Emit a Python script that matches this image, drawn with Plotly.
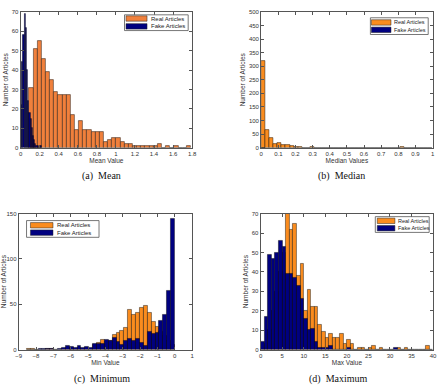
import numpy as np
import plotly.graph_objects as go

# ---------------- data ----------------
# (a) Mean
mean_real_start = 0.089
mean_real_binw = 0.0435
mean_real_counts = [31, 51, 55, 46, 39, 35, 29, 27, 27, 27, 17, 9, 14, 9, 9, 8, 8, 8, 3, 4,
                    5, 5, 3, 2, 2, 1, 1, 1, 1, 1, 1, 2, 0, 1, 0, 1, 0, 0, 1]
mean_fake_start = 0.0
mean_fake_binw = 0.0125
mean_fake_counts = [22, 44, 58, 69, 62, 40, 24, 18, 15, 10, 6, 4, 2, 1, 1, 0, 1, 1]

# (b) Median
median_real_start = 0.0
median_real_binw = 1 / 42
median_real_counts = [321, 65, 36, 14, 18, 11, 10, 6, 4, 3, 0, 0, 2, 0, 0, 1, 1, 1, 0, 1, 0,
                      0, 0, 0, 0, 0, 0, 1, 0, 0, 1, 1, 0, 0, 2, 1, 0, 0, 1, 0, 1, 1]
median_fake_start = 0.0
median_fake_binw = 1 / 42
median_fake_counts = [0]

# (c) Minimum  (bins listed left to right, ending at 0)
min_start = -8.55
min_binw = 0.225
min_real_counts = [1, 1, 0, 0, 0, 1, 1, 0, 0, 1, 2, 2, 1, 2, 1, 2, 1, 5, 8, 11,
                   9, 10, 16, 19, 21, 24, 44, 38, 41, 46, 48, 41, 31, 25, 20, 15, 10, 5]
min_fake_counts = [0, 0, 0, 1, 1, 1, 1, 0, 1, 2, 4, 3, 2, 4, 2, 3, 2, 6, 7, 7,
                   11, 10, 13, 9, 5, 10, 12, 10, 12, 8, 4, 20, 17, 19, 32, 39, 65, 145]

# (d) Maximum
max_start = 0.0
max_binw = 40 / 48
max_real_counts = [1, 3, 10, 20, 30, 40, 50, 70, 62, 65, 38, 44, 20, 31, 22, 22, 13, 9, 6, 8,
                   6, 6, 8, 3, 5, 3, 0, 1, 1, 0, 1, 2, 0, 1, 0, 0, 0, 0, 1, 0,
                   1, 0, 0, 0, 0, 0, 2, 0]
max_fake_counts = [4, 17, 49, 47, 50, 56, 53, 39, 39, 37, 33, 26, 16, 10, 11, 4, 1, 1, 1, 2,
                   0, 0, 0, 0, 1, 0, 0, 0, 0, 0, 0, 0, 0, 0, 0, 0, 0, 1, 0, 0,
                   0, 0, 0, 0, 0, 0, 0, 0]

series_names = ["Real Articles", "Fake Articles"]

# ---------------- styling ----------------
ORANGE_A = "#F0803C"
ORANGE = "#FA8C1E"
NAVY = "#000080"
EDGE = "rgba(0,0,0,0.85)"
SANS = "Liberation Sans, Arial, sans-serif"
TICKFONT = dict(family=SANS, size=6, color="#333333")
TITLEFONT = dict(family=SANS, size=6.5, color="#333333")

W, H = 443, 388


def centers(start, w, counts):
    return start + w * (np.arange(len(counts)) + 0.5)


fig = go.Figure()


def add_bars(counts, start, w, color, name, xa, ya):
    fig.add_trace(go.Bar(
        x=centers(start, w, counts), y=counts, width=w,
        marker=dict(color=color, line=dict(color=EDGE, width=0.5)),
        name=name, xaxis=xa, yaxis=ya, showlegend=False,
    ))


# (a)
add_bars(mean_real_counts, mean_real_start, mean_real_binw, ORANGE_A, series_names[0], "x", "y")
add_bars(mean_fake_counts, mean_fake_start, mean_fake_binw, NAVY, series_names[1], "x", "y")
# (b)
add_bars(median_real_counts, median_real_start, median_real_binw, ORANGE, series_names[0], "x2", "y2")
add_bars(median_fake_counts, median_fake_start, median_fake_binw, NAVY, series_names[1], "x2", "y2")
# (c)
add_bars(min_real_counts, min_start, min_binw, ORANGE, series_names[0], "x3", "y3")
add_bars(min_fake_counts, min_start, min_binw, NAVY, series_names[1], "x3", "y3")
# (d)
add_bars(max_real_counts, max_start, max_binw, ORANGE, series_names[0], "x4", "y4")
add_bars(max_fake_counts, max_start, max_binw, NAVY, series_names[1], "x4", "y4")


def px_x(v):
    return v / W


def px_y(v):
    return 1 - v / H


def axis(domain, rng, dtick, title, anchor, tick0=0):
    return dict(
        domain=domain, range=rng, dtick=dtick, tick0=tick0, anchor=anchor,
        showline=True, linecolor="#555555", linewidth=1, mirror="ticks",
        ticks="inside", ticklen=3, tickcolor="#555555", tickwidth=0.8,
        showgrid=False, zeroline=False, tickfont=TICKFONT,
        title=dict(text=title, font=TITLEFONT, standoff=2),
    )


dom = {
    "a": ([px_x(17), px_x(192)], [px_y(147), px_y(9)]),
    "b": ([px_x(262.5), px_x(437.5)], [px_y(147), px_y(9)]),
    "c": ([px_x(15), px_x(192)], [px_y(352), px_y(214)]),
    "d": ([px_x(262), px_x(438)], [px_y(352), px_y(214)]),
}

fig.update_layout(
    width=W, height=H, margin=dict(l=0, r=0, t=0, b=0),
    paper_bgcolor="white", plot_bgcolor="white",
    barmode="overlay", bargap=0, showlegend=False,
    xaxis=axis(dom["a"][0], [0, 1.8], 0.2, "Mean Value", "y"),
    yaxis=axis(dom["a"][1], [0, 70], 10, "Number of Articles", "x"),
    xaxis2=axis(dom["b"][0], [0, 1], 0.1, "Median Values", "y2"),
    yaxis2=axis(dom["b"][1], [0, 500], 50, "Number of Articles", "x2"),
    xaxis3=axis(dom["c"][0], [-9, 1], 1, "Min Value", "y3"),
    yaxis3=axis(dom["c"][1], [0, 150], 50, "Number of Articles", "x3"),
    xaxis4=axis(dom["d"][0], [0, 40], 5, "Max Value", "y4"),
    yaxis4=axis(dom["d"][1], [0, 70], 10, "Number of Articles", "x4"),
)

# ---- MATLAB-style legends (box, long swatches, text) ----
# (box x0, x1, y0, y1, swatch x0, x1, [row y0,y1]x2, text x, real color, font size)
legends = [
    (123, 188, 12, 28, 124.5, 146, [(13, 18.5), (21, 26.5)], 147.5, ORANGE_A, 6),
    (374, 433, 15, 32, 375, 395, [(17, 22.5), (24.5, 30)], 396.5, ORANGE, 5.5),
    (23, 97, 221, 238, 27, 50, [(223, 228.5), (230.5, 236)], 52, ORANGE, 6),
    (379, 434, 217, 233, 381, 399, [(218.5, 224), (226, 231.5)], 400.5, ORANGE, 5.5),
]
shapes = []
for bx0, bx1, by0, by1, sx0, sx1, rows, tx, rcol, fs in legends:
    shapes.append(dict(type="rect", xref="paper", yref="paper",
                       x0=px_x(bx0), x1=px_x(bx1), y0=px_y(by1), y1=px_y(by0),
                       fillcolor="white", line=dict(color="#555555", width=0.8), layer="above"))
    for (ry0, ry1), col, name in zip(rows, [rcol, NAVY], series_names):
        shapes.append(dict(type="rect", xref="paper", yref="paper",
                           x0=px_x(sx0), x1=px_x(sx1), y0=px_y(ry1), y1=px_y(ry0),
                           fillcolor=col, line=dict(color="#222222", width=0.5), layer="above"))
        fig.add_annotation(text=name, x=px_x(tx), y=px_y((ry0 + ry1) / 2),
                           xref="paper", yref="paper", showarrow=False,
                           xanchor="left", yanchor="middle",
                           font=dict(family=SANS, size=fs, color="#222222"))
fig.update_layout(shapes=shapes)

captions = [("(a)  Mean", 100, 176), ("(b)  Median", 345, 176),
            ("(c)  Minimum", 100, 382), ("(d)  Maximum", 341, 382)]
for text, cx, cy in captions:
    fig.add_annotation(text=text, x=px_x(cx), y=px_y(cy), xref="paper", yref="paper",
                       showarrow=False, xanchor="center", yanchor="middle",
                       font=dict(family="Liberation Serif, Times New Roman, serif", size=10, color="#111111"))

fig.write_html("out.html")
